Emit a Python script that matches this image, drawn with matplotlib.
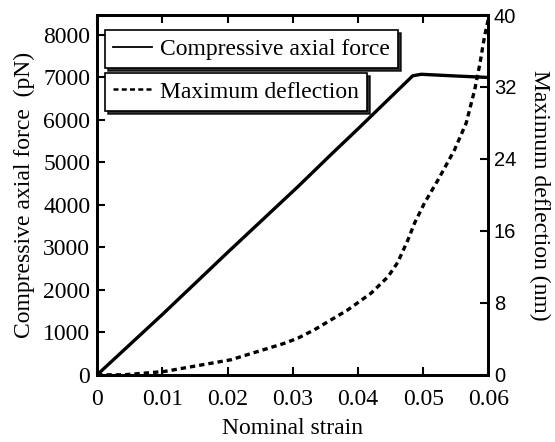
import matplotlib
matplotlib.use("Agg")
import matplotlib.pyplot as plt
from matplotlib.lines import Line2D

plt.rcParams['font.family'] = 'Liberation Serif'
plt.rcParams['mathtext.fontset'] = 'stix'

# compressive axial force (pN) vs nominal strain
strain_f = [0.0, 0.01, 0.02, 0.0308, 0.0358, 0.04, 0.0484, 0.0497, 0.055, 0.06]
force = [0, 1420, 2880, 4431, 5176, 5790, 7040, 7075, 7035, 7000]

# maximum deflection (nm) vs nominal strain
strain_d = [0.0, 0.0041, 0.0103, 0.0205, 0.0287, 0.0308, 0.0333, 0.0384, 0.042, 0.0446,
            0.0461, 0.0476, 0.0487, 0.0502, 0.0523, 0.0548, 0.0566, 0.0579, 0.0587,
            0.0594, 0.06]
deflection = [0.0, 0.0, 0.37, 1.67, 3.5, 4.08, 5.0, 7.2, 9.07, 10.9,
              12.5, 14.9, 16.9, 19.1, 21.7, 25.0, 28.0, 31.7, 34.6,
              37.6, 39.6]

xticks = [0, 0.01, 0.02, 0.03, 0.04, 0.05, 0.06]
xticklabels = ['0', '0.01', '0.02', '0.03', '0.04', '0.05', '0.06']
yticks_left = [0, 1000, 2000, 3000, 4000, 5000, 6000, 7000, 8000]
yticks_right = [0, 8, 16, 24, 32, 40]

fig = plt.figure(figsize=(5.55, 4.42), dpi=100)
ax = fig.add_axes([0.175, 0.152, 0.705, 0.814])
ax2 = ax.twinx()

ax.plot(strain_f, force, color='black', lw=2.4, solid_capstyle='butt')
ax2.plot(strain_d, deflection, color='black', lw=2.4, linestyle=(0, (1.6, 1.2)))

ax.set_xlim(0, 0.06)
ax.set_ylim(0, 8470)
ax2.set_ylim(0, 40)

ax.set_xticks(xticks)
ax.set_xticklabels(xticklabels)
ax.set_yticks(yticks_left)
ax2.set_yticks(yticks_right)

ax.tick_params(axis='both', direction='in', length=6, width=1.5, labelsize=17, pad=5)
ax.tick_params(axis='x', top=True, pad=10)
ax2.tick_params(axis='y', direction='in', length=6, width=1.5, labelsize=14.5, pad=4)
for lab in ax2.get_yticklabels():
    lab.set_fontfamily('Liberation Sans')

for a in (ax, ax2):
    for s in a.spines.values():
        s.set_linewidth(2)

ax.set_xlabel('Nominal strain', fontsize=17, labelpad=6)
ax.set_ylabel('Compressive axial force  (pN)', fontsize=17, labelpad=6)
ax2.set_ylabel('Maximum deflection (nm)', fontsize=17, rotation=270, labelpad=24)

h1 = Line2D([], [], color='black', lw=1.3)
h2 = Line2D([], [], color='black', lw=1.8, linestyle=(0, (2, 1.3)))
leg_kw = dict(loc='upper left', fontsize=17, fancybox=False,
              shadow={'color': 'black', 'alpha': 0.8}, edgecolor='black',
              framealpha=1, borderpad=0.35, handlelength=1.65, handletextpad=0.33,
              borderaxespad=0)
leg1 = ax2.legend([h1], ['Compressive axial force'], bbox_to_anchor=(0.02, 0.958), **leg_kw)
leg1.get_frame().set_linewidth(1.2)
ax2.add_artist(leg1)
leg2 = ax2.legend([h2], ['Maximum deflection'], bbox_to_anchor=(0.02, 0.839), **leg_kw)
leg2.get_frame().set_linewidth(1.2)

fig.savefig('out.png', dpi=100)
